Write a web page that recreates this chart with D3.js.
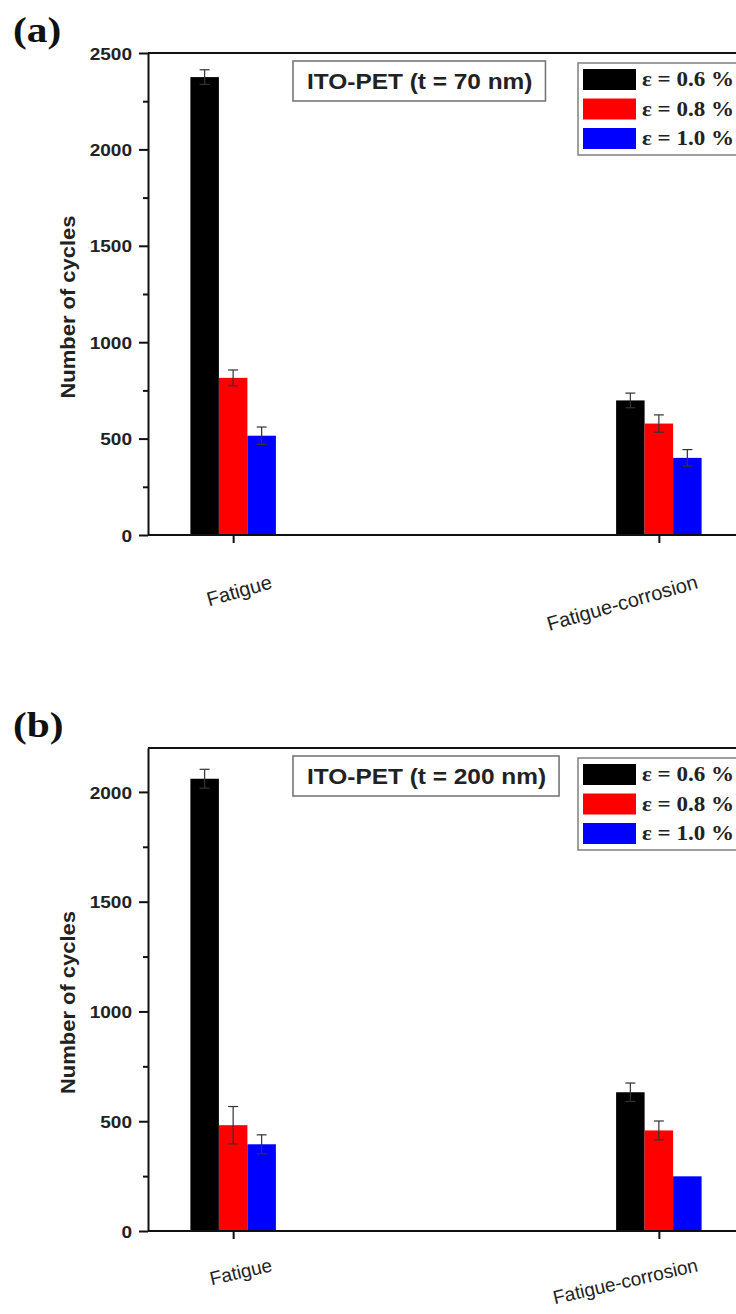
<!DOCTYPE html>
<html>
<head>
<meta charset="utf-8">
<script src="https://cdn.jsdelivr.net/npm/d3@7"></script>
<style>
  html, body { margin: 0; padding: 0; background: #fff; }
  svg { display: block; }
</style>
</head>
<body>
<svg id="fig" width="736" height="1314"></svg>
<script>
// Cycle counts of ITO-PET films under bending fatigue and fatigue-corrosion
const categories = ["Fatigue", "Fatigue-corrosion"];
const strainLabels = ["ε = 0.6 %", "ε = 0.8 %", "ε = 1.0 %"];
const strainColors = ["#000000", "#ff0000", "#0000ff"];

// (a) t = 70 nm : mean cycles per strain level, by category
const a_strain06 = [2375, 698];
const a_strain08 = [815, 578];
const a_strain10 = [515, 400];
const a_err06 = [38, 38];
const a_err08 = [41, 45];
const a_err10 = [45, 43];

// (b) t = 200 nm
const b_strain06 = [2060, 632];
const b_strain08 = [482, 458];
const b_strain10 = [395, 249];
const b_err06 = [43, 42];
const b_err08 = [85, 43];
const b_err10 = [43, 0];

const a_majorTicks = [0, 500, 1000, 1500, 2000, 2500];
const a_minorTicks = [250, 750, 1250, 1750, 2250];
const b_majorTicks = [0, 500, 1000, 1500, 2000];
const b_minorTicks = [250, 750, 1250, 1750];

const svg = d3.select("#fig");
const sans = "'Liberation Sans', Arial, sans-serif";
const serif = "'Liberation Serif', 'Times New Roman', serif";

// widen horizontal text slightly
function stretch(sel, k) {
  sel.each(function () {
    const w = this.getComputedTextLength();
    d3.select(this).attr("textLength", w * k).attr("lengthAdjust", "spacingAndGlyphs");
  });
}

function panel(cfg) {
  const left = 148, right = 744;
  const g = svg.append("g");

  const x = d3.scalePoint().domain(categories).range([left, right]).padding(0.2);
  const sub = d3.scaleBand().domain(d3.range(3)).range([-42.75, 42.75]).padding(0);
  const y = d3.scaleLinear().domain([0, cfg.ymax]).range([cfg.bottom, cfg.top]);

  const series = [cfg.s06, cfg.s08, cfg.s10];
  const errs = [cfg.e06, cfg.e08, cfg.e10];
  const rows = [];
  series.forEach((vals, si) => vals.forEach((v, ci) => rows.push({ si, ci, v, e: errs[si][ci] })));

  // bars
  g.selectAll("rect.bar").data(rows).enter().append("rect")
    .attr("class", "bar")
    .attr("x", d => x(categories[d.ci]) + sub(d.si))
    .attr("width", sub.bandwidth())
    .attr("y", d => y(d.v))
    .attr("height", d => y(0) - y(d.v))
    .attr("fill", d => strainColors[d.si]);

  // error bars
  const eb = g.selectAll("g.err").data(rows.filter(d => d.e > 0)).enter().append("g")
    .attr("class", "err")
    .attr("stroke", "#333").attr("stroke-width", 1.2).attr("fill", "none");
  const cx = d => x(categories[d.ci]) + sub(d.si) + sub.bandwidth() / 2;
  eb.append("line").attr("x1", cx).attr("x2", cx)
    .attr("y1", d => y(d.v + d.e)).attr("y2", d => y(d.v - d.e));
  eb.append("line").attr("x1", d => cx(d) - 5).attr("x2", d => cx(d) + 5)
    .attr("y1", d => y(d.v + d.e)).attr("y2", d => y(d.v + d.e));
  eb.append("line").attr("x1", d => cx(d) - 5).attr("x2", d => cx(d) + 5)
    .attr("y1", d => y(d.v - d.e)).attr("y2", d => y(d.v - d.e));

  // frame top and right
  g.append("path")
    .attr("d", `M${left},${cfg.top}H${right}V${cfg.bottom}`)
    .attr("fill", "none").attr("stroke", "#111").attr("stroke-width", 2);

  // y axis: minor then major
  g.append("g").attr("transform", `translate(${left},0)`)
    .call(d3.axisLeft(y).tickValues(cfg.minor).tickSize(5).tickSizeOuter(0).tickFormat(""))
    .call(s => s.select(".domain").remove())
    .selectAll("line").attr("stroke", "#111").attr("stroke-width", 2);
  const ya = g.append("g").attr("transform", `translate(${left},0)`)
    .call(d3.axisLeft(y).tickValues(cfg.major).tickSize(9).tickSizeOuter(0).tickPadding(7)
      .tickFormat(d3.format("d")));
  ya.select(".domain").attr("stroke", "#111").attr("stroke-width", 2);
  ya.selectAll(".tick line").attr("stroke", "#111").attr("stroke-width", 2);
  ya.selectAll(".tick text")
    .attr("font-family", sans).attr("font-weight", "bold").attr("font-size", 17)
    .attr("fill", "#222").attr("dy", "0.36em")
    .call(stretch, 1.12);

  // x axis
  const xa = g.append("g").attr("transform", `translate(0,${cfg.bottom})`)
    .call(d3.axisBottom(x).tickSize(8).tickSizeOuter(0).tickFormat(""));
  xa.select(".domain").attr("d", `M${left},0H${right}`).attr("stroke", "#111").attr("stroke-width", 2);
  xa.selectAll(".tick line").attr("stroke", "#111").attr("stroke-width", 2);

  g.selectAll("text.cat").data(categories).enter().append("text")
    .attr("class", "cat")
    .attr("transform", d => `translate(${x(d) + 40},${cfg.bottom + cfg.catDrop}) rotate(${-cfg.catAngle})`)
    .attr("text-anchor", "end")
    .attr("font-family", sans).attr("font-size", cfg.catSize).attr("fill", "#222")
    .text(d => d);

  // y axis title
  g.append("text")
    .attr("transform", `translate(75,${(cfg.top + cfg.bottom) / 2 + 13}) rotate(-90)`)
    .attr("text-anchor", "middle")
    .attr("font-family", sans).attr("font-weight", "bold").attr("font-size", 20)
    .attr("fill", "#222")
    .attr("textLength", 183).attr("lengthAdjust", "spacingAndGlyphs")
    .text("Number of cycles");

  // panel letter
  g.append("text")
    .attr("x", 13).attr("y", cfg.top - 11)
    .attr("font-family", serif).attr("font-weight", "bold").attr("font-size", 36)
    .attr("fill", "#111")
    .text(cfg.letter)
    .call(stretch, 1.15);

  // sample title box
  const box = g.append("rect")
    .attr("x", 293).attr("y", cfg.top + 8).attr("height", 40)
    .attr("fill", "#fff").attr("stroke", "#777").attr("stroke-width", 1.6);
  const tt = g.append("text")
    .attr("x", 307).attr("y", cfg.top + 36)
    .attr("font-family", sans).attr("font-weight", "bold").attr("font-size", 22)
    .attr("fill", "#222")
    .text(cfg.title)
    .call(stretch, 1.11);
  box.attr("width", +tt.attr("textLength") + 27);

  // legend
  const lg = g.append("g").attr("transform", `translate(578,${cfg.top + 10})`);
  lg.append("rect").attr("x", 0).attr("y", 0).attr("width", 170).attr("height", 92)
    .attr("fill", "#fff").attr("stroke", "#888").attr("stroke-width", 1.6);
  const item = lg.selectAll("g.item").data(strainLabels).enter().append("g")
    .attr("class", "item")
    .attr("transform", (d, i) => `translate(0,${6 + i * 29.5})`);
  item.append("rect").attr("x", 5).attr("y", 0).attr("width", 53).attr("height", 21)
    .attr("fill", (d, i) => strainColors[i]);
  item.append("text").attr("x", 64).attr("y", 17)
    .attr("font-family", serif).attr("font-weight", "bold").attr("font-size", 20)
    .attr("fill", "#222")
    .attr("textLength", 92).attr("lengthAdjust", "spacingAndGlyphs")
    .text(d => d);
}

panel({
  letter: "(a)", title: "ITO-PET (t = 70 nm)",
  top: 53, bottom: 535, ymax: 2500,
  major: a_majorTicks, minor: a_minorTicks,
  catDrop: 53, catAngle: 16, catSize: 20,
  s06: a_strain06, s08: a_strain08, s10: a_strain10,
  e06: a_err06, e08: a_err08, e10: a_err10
});

panel({
  letter: "(b)", title: "ITO-PET (t = 200 nm)",
  top: 748, bottom: 1231, ymax: 2200,
  major: b_majorTicks, minor: b_minorTicks,
  catDrop: 40, catAngle: 13, catSize: 19,
  s06: b_strain06, s08: b_strain08, s10: b_strain10,
  e06: b_err06, e08: b_err08, e10: b_err10
});
</script>
</body>
</html>
